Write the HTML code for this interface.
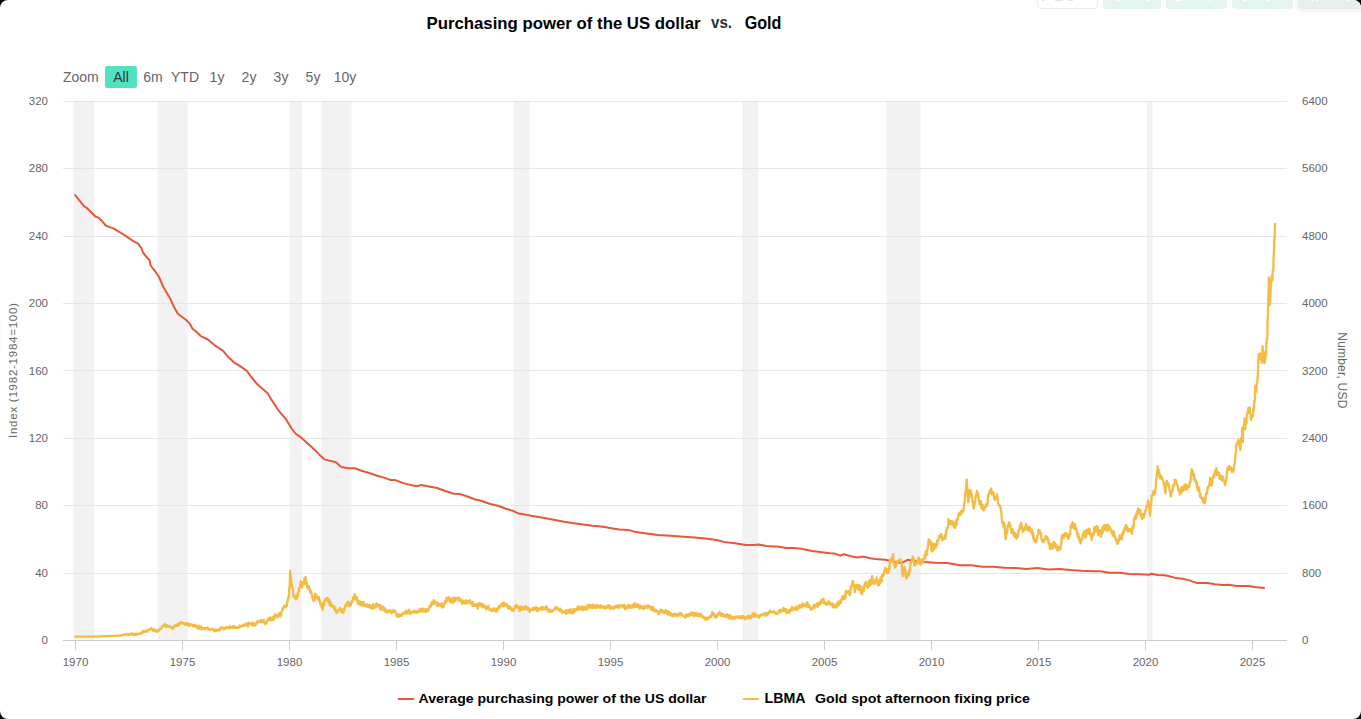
<!DOCTYPE html>
<html><head><meta charset="utf-8"><style>
html,body{margin:0;padding:0;background:#000;width:1361px;height:719px;overflow:hidden}
svg{display:block;font-family:"Liberation Sans",sans-serif}
</style></head><body>
<svg width="1361" height="719" viewBox="0 0 1361 719">
<defs><clipPath id="rr"><rect x="0" y="0" width="1361" height="719" rx="8" ry="8"/></clipPath></defs>
<rect x="0" y="0" width="1361" height="719" rx="8" ry="8" fill="#fff"/>
<g clip-path="url(#rr)">
<rect x="1037.5" y="-6" width="60" height="14.5" rx="3.5" fill="#fff" stroke="#ececec" stroke-width="1"/>
<rect x="1042" y="0" width="2" height="1" fill="#e0e0e0"/><rect x="1055" y="0" width="8" height="1" fill="#e4e4e4"/><rect x="1068" y="0" width="5" height="1" fill="#e4e4e4"/>
<rect x="1103" y="-6" width="58" height="15" rx="4" fill="#e4f4f0"/>
<rect x="1166" y="-6" width="61" height="15" rx="4" fill="#e4f4f0"/>
<rect x="1232" y="-6" width="61" height="15" rx="4" fill="#e4f4f0"/>
<rect x="1295" y="-6" width="80" height="18" rx="6" fill="#f3f8f7"/>
<rect x="1298" y="-6" width="70" height="15" rx="4" fill="#e6efed"/>
<g fill="#fff"><rect x="1116" y="0" width="3" height="1.2"/><rect x="1130" y="0" width="1.5" height="1"/><rect x="1138" y="0" width="1.5" height="1"/><rect x="1147" y="0" width="3" height="1.2"/>
<rect x="1176" y="0" width="6" height="1.2"/><rect x="1190" y="0" width="1.5" height="1"/><rect x="1200" y="0" width="1.5" height="1"/><rect x="1209" y="0" width="2" height="1"/>
<rect x="1243" y="0" width="4" height="1.2"/><rect x="1256" y="0" width="1.5" height="1"/><rect x="1266" y="0" width="3" height="1"/>
<rect x="1311" y="0" width="3" height="1.2"/><rect x="1316" y="0" width="2" height="1.2"/><rect x="1346" y="0" width="3" height="1.2"/></g>
</g>
<g font-weight="bold" fill="#000">
<text x="426.5" y="29" font-size="17" textLength="274" lengthAdjust="spacingAndGlyphs">Purchasing power of the US dollar</text>
<text x="711" y="28" font-size="16" fill="#2a2f3a" textLength="21" lengthAdjust="spacingAndGlyphs">vs.</text>
<text x="744.7" y="29" font-size="17.6" textLength="36.8" lengthAdjust="spacingAndGlyphs">Gold</text>
</g>
<g font-size="14">
<text x="63" y="82" fill="#666">Zoom</text>
<rect x="105" y="66" width="32" height="22" rx="2.5" fill="#50e3c2"/><text x="121" y="82" text-anchor="middle" fill="#333">All</text><text x="153" y="82" text-anchor="middle" fill="#666">6m</text><text x="185" y="82" text-anchor="middle" fill="#666">YTD</text><text x="217" y="82" text-anchor="middle" fill="#666">1y</text><text x="249" y="82" text-anchor="middle" fill="#666">2y</text><text x="281" y="82" text-anchor="middle" fill="#666">3y</text><text x="313" y="82" text-anchor="middle" fill="#666">5y</text><text x="345" y="82" text-anchor="middle" fill="#666">10y</text>
</g>
<rect x="73.3" y="101.5" width="20.9" height="538.5" fill="#f2f2f2"/><rect x="157.7" y="101.5" width="30.0" height="538.5" fill="#f2f2f2"/><rect x="289.6" y="101.5" width="12.2" height="538.5" fill="#f2f2f2"/><rect x="321.3" y="101.5" width="30.3" height="538.5" fill="#f2f2f2"/><rect x="513.5" y="101.5" width="16.0" height="538.5" fill="#f2f2f2"/><rect x="742.2" y="101.5" width="15.8" height="538.5" fill="#f2f2f2"/><rect x="886.5" y="101.5" width="34.0" height="538.5" fill="#f2f2f2"/><rect x="1147.0" y="101.5" width="5.5" height="538.5" fill="#f2f2f2"/>
<path d="M63,573.5 L1287,573.5" stroke="#e6e6e6" stroke-width="1"/><path d="M63,505.5 L1287,505.5" stroke="#e6e6e6" stroke-width="1"/><path d="M63,438.5 L1287,438.5" stroke="#e6e6e6" stroke-width="1"/><path d="M63,370.5 L1287,370.5" stroke="#e6e6e6" stroke-width="1"/><path d="M63,303.5 L1287,303.5" stroke="#e6e6e6" stroke-width="1"/><path d="M63,236.5 L1287,236.5" stroke="#e6e6e6" stroke-width="1"/><path d="M63,168.5 L1287,168.5" stroke="#e6e6e6" stroke-width="1"/><path d="M63,101.5 L1287,101.5" stroke="#e6e6e6" stroke-width="1"/>
<path d="M63,640.5 L1287,640.5" stroke="#cccccc" stroke-width="1"/>
<path d="M75.5,640 L75.5,650" stroke="#cccccc" stroke-width="1"/><path d="M182.5,640 L182.5,650" stroke="#cccccc" stroke-width="1"/><path d="M289.5,640 L289.5,650" stroke="#cccccc" stroke-width="1"/><path d="M396.5,640 L396.5,650" stroke="#cccccc" stroke-width="1"/><path d="M503.5,640 L503.5,650" stroke="#cccccc" stroke-width="1"/><path d="M610.5,640 L610.5,650" stroke="#cccccc" stroke-width="1"/><path d="M717.5,640 L717.5,650" stroke="#cccccc" stroke-width="1"/><path d="M824.5,640 L824.5,650" stroke="#cccccc" stroke-width="1"/><path d="M931.5,640 L931.5,650" stroke="#cccccc" stroke-width="1"/><path d="M1038.5,640 L1038.5,650" stroke="#cccccc" stroke-width="1"/><path d="M1145.5,640 L1145.5,650" stroke="#cccccc" stroke-width="1"/><path d="M1252.5,640 L1252.5,650" stroke="#cccccc" stroke-width="1"/>
<g font-size="11.5" fill="#666"><text x="75.5" y="666" text-anchor="middle">1970</text><text x="182.5" y="666" text-anchor="middle">1975</text><text x="289.5" y="666" text-anchor="middle">1980</text><text x="396.5" y="666" text-anchor="middle">1985</text><text x="503.5" y="666" text-anchor="middle">1990</text><text x="610.5" y="666" text-anchor="middle">1995</text><text x="717.5" y="666" text-anchor="middle">2000</text><text x="824.5" y="666" text-anchor="middle">2005</text><text x="931.5" y="666" text-anchor="middle">2010</text><text x="1038.5" y="666" text-anchor="middle">2015</text><text x="1145.5" y="666" text-anchor="middle">2020</text><text x="1252.5" y="666" text-anchor="middle">2025</text><text x="48" y="644.0" text-anchor="end">0</text><text x="48" y="576.6" text-anchor="end">40</text><text x="48" y="509.2" text-anchor="end">80</text><text x="48" y="441.9" text-anchor="end">120</text><text x="48" y="374.5" text-anchor="end">160</text><text x="48" y="307.1" text-anchor="end">200</text><text x="48" y="239.8" text-anchor="end">240</text><text x="48" y="172.4" text-anchor="end">280</text><text x="48" y="105.0" text-anchor="end">320</text><text x="1302" y="644.0" text-anchor="start">0</text><text x="1302" y="576.6" text-anchor="start">800</text><text x="1302" y="509.2" text-anchor="start">1600</text><text x="1302" y="441.9" text-anchor="start">2400</text><text x="1302" y="374.5" text-anchor="start">3200</text><text x="1302" y="307.1" text-anchor="start">4000</text><text x="1302" y="239.8" text-anchor="start">4800</text><text x="1302" y="172.4" text-anchor="start">5600</text><text x="1302" y="105.0" text-anchor="start">6400</text></g>
<text transform="translate(17.3,370.5) rotate(-90)" text-anchor="middle" font-size="11.5" fill="#666" textLength="135" lengthAdjust="spacing">Index (1982-1984=100)</text>
<text transform="translate(1338,370.3) rotate(90)" text-anchor="middle" font-size="12" fill="#666" textLength="76" lengthAdjust="spacing">Number, USD</text>
<path d="M75.10,195.00 L79.70,200.90 L83.90,206.10 L87.00,208.20 L91.20,212.30 L95.30,216.50 L98.50,217.60 L101.60,220.70 L105.80,225.50 L111.00,227.60 L114.10,228.60 L117.20,230.70 L122.50,233.80 L127.70,237.40 L132.90,240.90 L138.10,243.60 L141.20,247.80 L143.30,253.00 L147.50,258.20 L149.60,260.30 L150.60,265.50 L154.80,270.80 L159.00,277.00 L163.10,286.40 L167.30,293.70 L170.40,298.90 L173.60,306.20 L177.70,313.50 L180.00,315.50 L185.60,319.50 L189.70,323.60 L192.50,328.70 L196.70,332.00 L200.90,336.20 L207.80,339.50 L214.80,345.30 L223.10,350.90 L228.70,357.60 L234.20,362.60 L239.80,365.90 L246.80,370.90 L250.90,376.50 L256.50,383.40 L262.10,388.50 L267.60,393.20 L273.20,402.40 L278.70,410.70 L285.70,418.80 L291.30,428.00 L295.40,433.50 L299.60,436.30 L305.20,441.30 L313.50,448.80 L319.10,454.40 L324.60,459.40 L335.80,462.20 L341.30,466.90 L348.30,468.30 L355.20,468.30 L360.80,470.50 L369.20,473.00 L377.30,475.70 L384.70,477.90 L390.20,479.90 L394.80,479.90 L403.10,483.10 L410.40,484.90 L416.80,486.20 L421.40,484.90 L428.80,486.40 L437.00,488.00 L445.30,491.00 L453.60,493.70 L460.00,494.10 L467.40,496.50 L474.70,499.20 L481.10,500.70 L489.40,503.80 L498.60,506.00 L505.90,508.80 L512.40,510.60 L518.80,513.60 L526.10,514.80 L535.30,516.50 L544.50,518.00 L553.70,519.80 L562.90,521.60 L572.10,523.10 L583.10,524.40 L592.30,525.70 L603.30,526.80 L610.00,527.90 L619.20,529.40 L628.40,529.90 L635.70,532.10 L646.70,533.60 L657.80,534.90 L670.60,535.80 L683.50,536.70 L694.50,537.50 L705.50,538.60 L716.50,540.00 L723.90,541.90 L734.90,543.20 L745.90,545.00 L753.30,545.00 L758.80,544.50 L766.10,545.90 L779.00,546.80 L786.30,548.10 L793.70,548.10 L801.00,548.70 L812.10,550.90 L820.00,551.90 L830.00,553.20 L835.00,553.60 L840.00,555.70 L843.80,554.20 L852.60,556.60 L857.60,557.60 L863.80,556.60 L870.10,558.20 L875.10,559.10 L885.10,559.80 L890.10,560.70 L901.40,563.20 L907.60,559.80 L912.70,560.70 L923.90,561.90 L935.20,562.80 L947.40,563.10 L952.90,564.00 L960.20,565.30 L971.20,565.30 L982.30,566.70 L993.30,566.70 L1004.30,567.70 L1015.30,568.00 L1026.30,568.90 L1037.40,568.00 L1048.40,569.50 L1059.40,568.90 L1070.40,570.00 L1081.40,570.80 L1092.50,571.30 L1100.30,571.30 L1109.10,572.80 L1119.40,572.80 L1129.70,574.00 L1140.00,574.20 L1148.80,574.70 L1151.70,573.80 L1157.60,575.00 L1164.90,575.30 L1169.40,576.20 L1175.20,577.90 L1182.60,578.70 L1188.50,580.10 L1192.90,581.60 L1197.30,583.10 L1207.60,583.10 L1214.90,584.20 L1222.30,585.00 L1228.10,584.80 L1237.00,586.00 L1248.70,586.00 L1254.60,587.00 L1264.10,587.90" fill="none" stroke="#e8563b" stroke-width="2" stroke-linejoin="round" stroke-linecap="round"/>
<path d="M75.50,636.70 L75.84,636.67 L76.19,636.65 L76.53,636.72 L76.88,636.73 L77.22,636.73 L77.57,636.73 L77.91,636.72 L78.26,636.53 L78.60,636.60 L78.95,636.64 L79.29,636.62 L79.64,636.69 L79.98,636.76 L80.33,636.74 L80.67,636.60 L81.02,636.64 L81.36,636.68 L81.71,636.59 L82.05,636.72 L82.40,636.64 L82.74,636.54 L83.09,636.72 L83.43,636.57 L83.78,636.55 L84.12,636.61 L84.47,636.64 L84.81,636.67 L85.16,636.67 L85.50,636.56 L85.85,636.61 L86.19,636.56 L86.54,636.58 L86.88,636.51 L87.23,636.63 L87.57,636.68 L87.92,636.43 L88.26,636.56 L88.61,636.65 L88.95,636.62 L89.30,636.64 L89.64,636.69 L89.99,636.69 L90.33,636.70 L90.68,636.66 L91.02,636.54 L91.37,636.48 L91.71,636.66 L92.06,636.67 L92.40,636.57 L92.75,636.62 L93.10,636.65 L93.45,636.52 L93.80,636.56 L94.15,636.59 L94.50,636.52 L94.85,636.50 L95.20,636.47 L95.55,636.44 L95.90,636.44 L96.25,636.53 L96.60,636.55 L96.95,636.50 L97.30,636.51 L97.65,636.47 L98.00,636.45 L98.35,636.48 L98.70,636.49 L99.05,636.41 L99.40,636.47 L99.75,636.41 L100.10,636.24 L100.45,636.38 L100.80,636.37 L101.15,636.37 L101.50,636.28 L101.85,636.38 L102.20,636.31 L102.55,636.29 L102.90,636.19 L103.25,636.15 L103.60,636.28 L103.95,636.32 L104.30,636.15 L104.65,636.20 L105.00,636.00 L105.35,636.09 L105.70,636.08 L106.05,636.25 L106.40,636.16 L106.75,636.16 L107.10,636.23 L107.44,636.12 L107.79,636.10 L108.13,636.15 L108.48,636.19 L108.82,636.16 L109.16,635.97 L109.51,636.00 L109.85,635.93 L110.20,636.08 L110.54,635.99 L110.89,635.95 L111.23,636.13 L111.57,636.09 L111.92,635.97 L112.26,636.02 L112.61,635.87 L112.95,635.93 L113.29,635.86 L113.64,636.03 L113.98,635.93 L114.33,635.97 L114.67,635.90 L115.01,635.88 L115.36,635.80 L115.70,635.83 L116.05,635.73 L116.39,635.82 L116.74,635.85 L117.08,635.82 L117.42,635.87 L117.77,635.80 L118.11,635.61 L118.46,635.71 L118.80,635.60 L119.15,635.55 L119.49,635.52 L119.84,635.52 L120.19,635.59 L120.54,635.30 L120.88,635.50 L121.23,635.20 L121.58,635.37 L121.92,635.34 L122.27,635.03 L122.62,634.99 L122.96,635.01 L123.31,634.88 L123.66,634.87 L124.01,634.86 L124.35,634.70 L124.70,634.24 L125.05,634.56 L125.39,634.27 L125.74,634.35 L126.09,634.63 L126.44,634.55 L126.78,634.68 L127.13,634.03 L127.48,634.83 L127.82,634.31 L128.17,634.07 L128.52,635.09 L128.86,634.49 L129.21,634.36 L129.56,634.61 L129.91,634.15 L130.25,634.37 L130.60,633.98 L130.95,633.83 L131.29,634.08 L131.64,633.69 L131.99,634.63 L132.34,633.43 L132.68,634.51 L133.03,634.65 L133.38,634.63 L133.72,634.56 L134.07,633.97 L134.42,635.05 L134.76,633.94 L135.11,634.30 L135.46,633.82 L135.81,634.85 L136.15,633.77 L136.50,634.87 L136.84,634.92 L137.18,634.49 L137.52,633.74 L137.85,634.17 L138.19,633.78 L138.53,633.99 L138.87,633.96 L139.21,634.08 L139.55,633.40 L139.88,633.59 L140.22,633.60 L140.56,633.56 L140.90,632.93 L141.22,633.75 L141.54,633.14 L141.87,632.70 L142.19,632.69 L142.51,632.71 L142.83,631.00 L143.16,632.55 L143.48,631.12 L143.80,631.73 L144.15,631.53 L144.49,631.85 L144.84,631.62 L145.19,631.87 L145.54,630.85 L145.88,631.45 L146.23,631.35 L146.58,631.16 L146.92,631.71 L147.27,630.34 L147.62,631.52 L147.96,630.38 L148.31,629.89 L148.66,629.56 L149.01,629.90 L149.35,629.25 L149.70,629.44 L150.04,629.27 L150.38,629.62 L150.72,628.83 L151.05,628.50 L151.39,628.26 L151.73,629.59 L152.07,629.49 L152.41,628.88 L152.75,630.26 L153.08,629.81 L153.42,629.37 L153.76,630.92 L154.10,630.19 L154.44,629.59 L154.77,629.77 L155.11,629.68 L155.45,630.65 L155.78,631.13 L156.12,631.72 L156.45,630.86 L156.79,630.59 L157.13,631.24 L157.46,630.76 L157.80,631.44 L158.12,631.02 L158.44,630.55 L158.77,630.91 L159.09,630.13 L159.41,628.82 L159.73,629.74 L160.06,629.33 L160.38,628.32 L160.70,628.58 L161.04,628.79 L161.37,627.63 L161.71,627.66 L162.05,627.62 L162.38,626.15 L162.72,626.05 L163.05,625.83 L163.39,625.52 L163.73,624.97 L164.06,625.12 L164.40,625.20 L164.74,623.82 L165.08,625.31 L165.42,626.76 L165.75,626.14 L166.09,626.07 L166.43,625.46 L166.77,624.95 L167.11,625.20 L167.45,627.16 L167.78,625.76 L168.12,625.97 L168.46,625.91 L168.80,626.29 L169.14,626.88 L169.48,626.27 L169.82,626.14 L170.15,626.34 L170.49,626.66 L170.83,627.31 L171.17,627.22 L171.51,627.64 L171.85,627.44 L172.18,628.31 L172.52,628.95 L172.86,628.20 L173.20,627.73 L173.54,628.21 L173.88,626.55 L174.22,625.79 L174.55,626.49 L174.89,626.33 L175.23,625.61 L175.57,625.18 L175.91,626.00 L176.25,625.54 L176.58,625.36 L176.92,625.94 L177.26,624.84 L177.60,624.15 L177.93,623.99 L178.27,624.46 L178.60,625.45 L178.93,623.73 L179.27,622.89 L179.60,623.88 L179.93,623.84 L180.27,623.52 L180.60,623.59 L180.94,622.09 L181.28,622.11 L181.62,623.13 L181.95,623.14 L182.29,623.23 L182.63,623.18 L182.97,623.02 L183.31,622.92 L183.65,623.87 L183.98,623.72 L184.32,623.45 L184.66,623.82 L185.00,624.51 L185.34,624.02 L185.68,624.44 L186.02,625.00 L186.36,623.13 L186.71,624.37 L187.05,624.79 L187.39,624.09 L187.73,624.21 L188.07,623.49 L188.41,624.38 L188.75,624.87 L189.09,626.11 L189.44,624.14 L189.78,625.07 L190.12,623.78 L190.46,624.81 L190.80,624.30 L191.15,624.79 L191.49,624.60 L191.84,625.42 L192.19,624.98 L192.54,625.04 L192.88,626.09 L193.23,625.80 L193.58,626.20 L193.92,625.88 L194.27,626.09 L194.62,624.61 L194.96,626.14 L195.31,626.58 L195.66,625.82 L196.01,625.53 L196.35,626.47 L196.70,626.72 L197.04,626.57 L197.37,628.03 L197.71,628.36 L198.05,626.97 L198.38,627.67 L198.72,625.75 L199.05,627.62 L199.39,628.86 L199.73,627.62 L200.06,627.92 L200.40,627.35 L200.74,626.45 L201.07,627.92 L201.41,629.49 L201.75,628.14 L202.08,627.73 L202.42,628.46 L202.75,628.19 L203.09,628.67 L203.43,628.23 L203.76,628.39 L204.10,629.09 L204.45,627.89 L204.79,628.80 L205.14,629.20 L205.49,628.91 L205.84,628.41 L206.18,628.77 L206.53,628.16 L206.88,628.48 L207.22,628.40 L207.57,627.47 L207.92,628.93 L208.26,628.64 L208.61,629.66 L208.96,629.16 L209.31,629.09 L209.65,628.88 L210.00,629.21 L210.35,629.87 L210.70,629.35 L211.04,629.83 L211.39,629.65 L211.74,629.39 L212.09,628.85 L212.43,629.00 L212.78,629.41 L213.13,630.11 L213.48,629.55 L213.82,630.69 L214.17,630.13 L214.52,630.33 L214.87,631.26 L215.21,629.45 L215.56,630.65 L215.91,630.95 L216.26,630.08 L216.60,631.14 L216.95,630.01 L217.30,629.64 L217.64,630.14 L217.98,629.90 L218.32,629.73 L218.65,629.43 L218.99,629.98 L219.33,630.50 L219.67,629.10 L220.01,629.72 L220.35,628.49 L220.68,627.77 L221.02,628.43 L221.36,628.15 L221.70,627.08 L222.04,628.33 L222.37,628.50 L222.71,628.31 L223.05,628.28 L223.38,628.08 L223.72,629.35 L224.05,628.29 L224.39,627.63 L224.73,628.56 L225.06,628.34 L225.40,628.71 L225.74,627.52 L226.07,627.96 L226.41,627.48 L226.75,628.04 L227.08,627.02 L227.42,627.81 L227.75,627.89 L228.09,627.17 L228.43,628.22 L228.76,627.54 L229.10,628.41 L229.45,627.73 L229.80,627.45 L230.14,626.01 L230.49,627.66 L230.84,626.99 L231.19,627.82 L231.53,627.91 L231.88,627.78 L232.23,627.17 L232.58,627.44 L232.92,626.19 L233.27,627.84 L233.62,627.78 L233.97,627.80 L234.31,626.88 L234.66,627.71 L235.01,626.12 L235.36,627.83 L235.70,627.49 L236.05,627.93 L236.40,627.79 L236.75,627.65 L237.10,627.67 L237.44,627.44 L237.79,628.01 L238.14,627.02 L238.49,627.83 L238.83,626.91 L239.18,627.29 L239.53,625.60 L239.88,627.17 L240.22,626.70 L240.57,626.54 L240.92,626.04 L241.27,625.92 L241.61,626.37 L241.96,626.10 L242.31,625.72 L242.66,625.90 L243.00,625.62 L243.35,624.53 L243.70,625.53 L244.05,625.33 L244.39,625.84 L244.74,625.83 L245.09,625.29 L245.44,624.94 L245.78,623.92 L246.13,624.83 L246.48,624.55 L246.82,624.50 L247.17,623.27 L247.52,623.58 L247.86,626.53 L248.21,624.22 L248.56,623.96 L248.91,622.70 L249.25,624.48 L249.60,623.71 L249.93,623.88 L250.26,623.86 L250.59,623.66 L250.93,624.26 L251.26,623.57 L251.59,623.87 L251.92,625.37 L252.25,622.56 L252.58,625.04 L252.92,624.74 L253.25,623.55 L253.58,623.59 L253.91,623.11 L254.24,625.59 L254.57,623.62 L254.91,623.63 L255.24,624.32 L255.57,624.94 L255.90,624.07 L256.24,623.48 L256.58,623.07 L256.92,621.40 L257.25,621.93 L257.59,622.34 L257.93,622.35 L258.27,621.41 L258.61,621.15 L258.95,621.66 L259.28,620.99 L259.62,621.20 L259.96,621.60 L260.30,621.98 L260.64,620.54 L260.97,619.98 L261.31,622.24 L261.65,621.27 L261.98,621.66 L262.32,620.27 L262.65,621.26 L262.99,621.22 L263.33,620.51 L263.66,619.85 L264.00,620.30 L264.35,623.03 L264.70,622.60 L265.05,623.13 L265.40,624.28 L265.74,623.64 L266.07,622.96 L266.41,623.55 L266.75,621.65 L267.08,620.80 L267.42,621.22 L267.75,621.10 L268.09,618.90 L268.43,620.10 L268.76,618.50 L269.10,617.89 L269.42,619.24 L269.74,619.15 L270.07,619.94 L270.39,617.27 L270.71,618.23 L271.03,618.47 L271.36,618.09 L271.68,620.31 L272.00,619.43 L272.34,619.21 L272.67,619.61 L273.01,616.79 L273.35,617.73 L273.68,617.86 L274.02,619.91 L274.35,616.60 L274.69,614.90 L275.03,616.52 L275.36,614.31 L275.70,615.90 L276.05,614.87 L276.39,616.50 L276.74,616.76 L277.09,615.96 L277.43,617.45 L277.78,616.31 L278.13,615.86 L278.47,614.30 L278.82,613.79 L279.17,615.89 L279.51,616.13 L279.86,613.26 L280.21,616.11 L280.55,614.59 L280.90,615.95 L281.22,614.66 L281.54,612.25 L281.87,610.78 L282.19,610.30 L282.51,610.30 L282.83,608.25 L283.16,608.85 L283.48,607.18 L283.80,607.71 L284.12,606.47 L284.44,605.90 L284.77,605.23 L285.09,607.10 L285.41,606.99 L285.73,607.41 L286.06,605.59 L286.38,605.79 L286.70,605.84 L287.00,604.88 L287.30,601.33 L287.60,602.17 L287.90,599.68 L288.20,597.50 L288.50,598.46 L288.80,597.25 L289.10,592.18 L289.40,586.63 L289.70,587.47 L289.90,579.46 L290.10,571.01 L290.43,573.46 L290.77,576.84 L291.10,580.69 L291.40,581.87 L291.70,583.82 L292.00,585.45 L292.30,587.45 L292.60,588.15 L292.87,588.88 L293.13,592.24 L293.40,596.76 L293.73,596.58 L294.05,596.33 L294.38,596.96 L294.71,596.72 L295.04,597.45 L295.36,597.84 L295.69,599.35 L296.02,595.32 L296.35,598.59 L296.67,599.06 L297.00,597.35 L297.30,596.39 L297.60,594.21 L297.90,596.10 L298.20,593.13 L298.50,590.85 L298.81,588.15 L299.13,591.29 L299.44,588.63 L299.76,587.14 L300.07,586.93 L300.39,582.00 L300.70,581.18 L301.00,586.02 L301.30,585.98 L301.60,584.96 L301.90,584.91 L302.20,587.53 L302.51,582.48 L302.82,582.52 L303.14,582.63 L303.45,581.84 L303.76,584.39 L304.07,582.74 L304.39,578.14 L304.70,580.14 L305.02,580.68 L305.35,578.97 L305.68,576.91 L306.00,584.16 L306.32,581.08 L306.65,582.43 L306.98,584.39 L307.30,587.82 L307.64,585.69 L307.97,588.74 L308.31,586.29 L308.65,586.53 L308.98,585.86 L309.32,589.22 L309.65,590.37 L309.99,589.65 L310.33,592.91 L310.66,590.54 L311.00,592.13 L311.31,592.40 L311.63,593.84 L311.94,594.65 L312.26,597.43 L312.57,596.17 L312.89,600.51 L313.20,599.51 L313.51,600.64 L313.83,596.74 L314.14,597.74 L314.46,600.63 L314.77,597.73 L315.09,593.58 L315.40,595.31 L315.74,594.98 L316.07,594.65 L316.41,595.47 L316.75,597.20 L317.08,596.94 L317.42,597.67 L317.75,598.86 L318.09,599.46 L318.43,598.58 L318.76,596.83 L319.10,597.96 L319.43,601.37 L319.75,600.34 L320.08,604.45 L320.41,602.76 L320.74,604.59 L321.06,603.75 L321.39,605.52 L321.72,607.68 L322.05,606.50 L322.37,605.83 L322.70,609.92 L323.03,605.10 L323.37,602.95 L323.70,602.30 L324.03,605.73 L324.37,602.10 L324.70,601.99 L325.03,599.75 L325.37,600.24 L325.70,598.79 L326.04,599.18 L326.38,599.12 L326.72,598.14 L327.05,600.31 L327.39,600.49 L327.73,598.20 L328.07,601.50 L328.41,601.17 L328.75,600.10 L329.08,602.81 L329.42,599.98 L329.76,605.52 L330.10,602.51 L330.45,603.20 L330.79,602.31 L331.14,606.15 L331.49,605.55 L331.84,604.32 L332.18,606.65 L332.53,606.43 L332.88,605.80 L333.23,606.45 L333.57,607.74 L333.92,607.34 L334.27,606.32 L334.62,609.27 L334.96,610.37 L335.31,608.07 L335.66,611.02 L336.01,610.71 L336.35,612.57 L336.70,613.02 L337.02,612.40 L337.34,610.89 L337.67,611.64 L337.99,610.72 L338.31,609.90 L338.63,610.15 L338.96,609.32 L339.28,609.57 L339.60,610.06 L339.94,607.94 L340.27,609.48 L340.61,609.24 L340.95,610.58 L341.28,612.06 L341.62,612.19 L341.95,609.28 L342.29,612.28 L342.63,612.42 L342.96,611.54 L343.30,612.75 L343.63,612.40 L343.97,609.04 L344.30,609.39 L344.63,608.41 L344.97,606.13 L345.30,605.74 L345.63,604.98 L345.97,606.59 L346.30,605.03 L346.63,603.83 L346.95,602.64 L347.28,602.74 L347.61,604.90 L347.94,601.64 L348.26,603.51 L348.59,602.26 L348.92,603.62 L349.25,606.34 L349.57,603.28 L349.90,604.44 L350.25,603.33 L350.59,604.83 L350.94,604.98 L351.29,602.14 L351.63,602.42 L351.98,600.83 L352.33,601.97 L352.67,600.66 L353.02,597.43 L353.37,599.02 L353.71,596.99 L354.06,596.51 L354.41,599.05 L354.75,594.24 L355.10,597.60 L355.42,597.20 L355.74,597.26 L356.07,599.16 L356.39,599.80 L356.71,596.96 L357.03,598.83 L357.36,601.15 L357.68,602.37 L358.00,600.56 L358.35,604.34 L358.69,601.74 L359.04,603.27 L359.39,602.34 L359.74,601.25 L360.08,604.07 L360.43,602.31 L360.78,605.29 L361.13,603.33 L361.47,602.15 L361.82,603.32 L362.17,605.28 L362.52,602.19 L362.86,605.34 L363.21,603.35 L363.56,602.26 L363.91,602.99 L364.25,603.73 L364.60,604.45 L364.94,605.85 L365.27,605.15 L365.61,604.62 L365.95,604.39 L366.28,604.66 L366.62,606.28 L366.95,604.70 L367.29,604.55 L367.63,605.19 L367.96,607.22 L368.30,605.73 L368.64,606.05 L368.97,605.31 L369.31,606.48 L369.65,604.78 L369.98,607.71 L370.32,608.10 L370.65,607.67 L370.99,605.96 L371.33,606.75 L371.66,606.16 L372.00,605.64 L372.35,608.95 L372.70,608.36 L373.04,604.06 L373.39,605.10 L373.74,606.13 L374.09,606.31 L374.43,607.26 L374.78,607.87 L375.13,605.91 L375.48,606.88 L375.82,605.37 L376.17,603.62 L376.52,606.62 L376.87,603.59 L377.21,605.21 L377.56,604.42 L377.91,606.37 L378.26,606.28 L378.60,605.49 L378.95,606.05 L379.30,605.19 L379.64,604.76 L379.98,607.14 L380.32,609.41 L380.65,605.57 L380.99,608.57 L381.33,609.78 L381.67,607.14 L382.01,608.38 L382.35,607.10 L382.68,607.66 L383.02,608.55 L383.36,606.76 L383.70,610.43 L384.04,609.84 L384.38,609.71 L384.72,608.43 L385.05,610.65 L385.39,611.45 L385.73,612.16 L386.07,611.73 L386.41,610.17 L386.75,610.69 L387.08,611.36 L387.42,612.52 L387.76,611.08 L388.10,611.94 L388.45,611.26 L388.79,610.52 L389.14,611.35 L389.49,610.56 L389.84,611.45 L390.18,610.48 L390.53,612.65 L390.88,611.41 L391.22,611.31 L391.57,613.33 L391.92,611.00 L392.26,611.94 L392.61,610.66 L392.96,612.07 L393.31,610.00 L393.65,610.04 L394.00,611.72 L394.34,610.63 L394.68,611.63 L395.02,611.57 L395.35,611.41 L395.69,613.24 L396.03,613.22 L396.37,613.67 L396.71,616.27 L397.05,615.14 L397.38,615.59 L397.72,615.37 L398.06,615.62 L398.40,616.86 L398.75,614.26 L399.09,616.76 L399.44,615.96 L399.79,616.03 L400.14,615.14 L400.48,614.74 L400.83,614.54 L401.18,614.48 L401.52,614.86 L401.87,615.99 L402.22,614.28 L402.56,613.34 L402.91,614.29 L403.26,613.03 L403.61,612.92 L403.95,612.39 L404.30,613.57 L404.65,613.01 L405.00,613.37 L405.34,613.00 L405.69,611.12 L406.04,613.48 L406.39,611.89 L406.73,610.77 L407.08,613.16 L407.43,611.69 L407.78,613.48 L408.12,611.28 L408.47,613.07 L408.82,612.48 L409.17,609.72 L409.51,610.32 L409.86,612.83 L410.21,612.50 L410.56,613.98 L410.90,611.93 L411.25,612.34 L411.60,612.49 L411.95,612.24 L412.29,612.33 L412.64,612.39 L412.99,611.08 L413.34,612.69 L413.68,611.92 L414.03,611.56 L414.38,610.88 L414.72,610.79 L415.07,610.86 L415.42,611.06 L415.76,612.52 L416.11,612.42 L416.46,611.50 L416.81,612.82 L417.15,611.32 L417.50,611.89 L417.84,612.24 L418.18,611.75 L418.52,611.87 L418.85,610.04 L419.19,609.92 L419.53,612.09 L419.87,610.26 L420.21,608.77 L420.55,610.07 L420.88,610.57 L421.22,609.82 L421.56,609.19 L421.90,608.55 L422.25,608.49 L422.59,611.78 L422.94,610.69 L423.29,609.57 L423.64,608.87 L423.98,610.54 L424.33,610.38 L424.68,610.59 L425.02,610.36 L425.37,611.79 L425.72,612.01 L426.06,609.08 L426.41,609.65 L426.76,609.20 L427.11,609.89 L427.45,609.75 L427.80,611.30 L428.15,610.94 L428.49,609.10 L428.84,609.06 L429.19,607.76 L429.54,605.81 L429.88,606.55 L430.23,606.77 L430.58,605.02 L430.92,606.09 L431.27,605.21 L431.62,602.09 L431.96,603.48 L432.31,604.16 L432.66,604.36 L433.01,602.20 L433.35,601.75 L433.70,600.16 L434.04,602.52 L434.38,603.44 L434.72,602.76 L435.05,602.11 L435.39,602.68 L435.73,601.64 L436.07,602.59 L436.41,602.09 L436.75,604.67 L437.08,605.76 L437.42,602.61 L437.76,605.44 L438.10,605.79 L438.44,603.36 L438.79,604.77 L439.13,605.30 L439.47,605.20 L439.81,604.25 L440.16,605.86 L440.50,605.48 L440.84,605.54 L441.19,604.95 L441.53,603.30 L441.87,605.84 L442.21,607.43 L442.56,605.93 L442.90,606.71 L443.24,604.01 L443.57,607.01 L443.91,603.30 L444.25,603.76 L444.58,603.89 L444.92,602.20 L445.25,600.71 L445.59,600.83 L445.93,600.66 L446.26,602.10 L446.60,597.63 L446.95,597.85 L447.29,599.50 L447.64,598.63 L447.99,600.15 L448.34,598.74 L448.68,597.23 L449.03,599.21 L449.38,598.29 L449.73,598.37 L450.07,600.81 L450.42,602.42 L450.77,599.87 L451.12,600.54 L451.46,601.99 L451.81,598.51 L452.16,600.40 L452.51,600.30 L452.85,599.74 L453.20,603.03 L453.55,599.55 L453.89,597.65 L454.24,598.73 L454.59,600.12 L454.94,597.96 L455.28,601.15 L455.63,598.23 L455.98,599.01 L456.32,598.81 L456.67,598.42 L457.02,598.20 L457.36,597.80 L457.71,598.31 L458.06,600.42 L458.41,599.23 L458.75,599.55 L459.10,598.82 L459.44,597.57 L459.78,601.11 L460.12,600.55 L460.45,599.76 L460.79,600.73 L461.13,599.61 L461.47,601.94 L461.81,602.23 L462.15,603.76 L462.48,600.85 L462.82,601.34 L463.16,600.59 L463.50,601.43 L463.85,602.85 L464.19,601.37 L464.54,601.58 L464.89,601.36 L465.24,603.56 L465.58,602.21 L465.93,600.28 L466.28,601.02 L466.62,603.32 L466.97,602.52 L467.32,602.29 L467.66,602.03 L468.01,601.26 L468.36,601.52 L468.71,602.55 L469.05,602.19 L469.40,600.19 L469.75,600.46 L470.09,603.26 L470.44,603.54 L470.79,602.00 L471.14,603.55 L471.48,601.78 L471.83,602.15 L472.18,602.55 L472.53,605.79 L472.87,602.13 L473.22,604.40 L473.57,605.29 L473.92,605.74 L474.26,605.38 L474.61,604.55 L474.96,604.27 L475.31,604.78 L475.65,606.03 L476.00,605.63 L476.34,604.05 L476.67,605.94 L477.01,604.47 L477.35,606.07 L477.68,607.43 L478.02,608.55 L478.35,605.20 L478.69,604.17 L479.03,602.80 L479.36,605.30 L479.70,604.55 L480.05,604.74 L480.39,603.39 L480.74,604.35 L481.09,606.35 L481.44,606.02 L481.78,605.50 L482.13,605.54 L482.48,603.97 L482.82,607.22 L483.17,606.25 L483.52,606.17 L483.86,607.16 L484.21,607.08 L484.56,607.31 L484.91,605.36 L485.25,607.78 L485.60,606.75 L485.94,606.94 L486.28,609.23 L486.62,608.66 L486.96,609.07 L487.31,606.64 L487.65,608.89 L487.99,606.87 L488.33,605.94 L488.67,608.71 L489.01,608.71 L489.35,608.90 L489.69,610.33 L490.04,609.01 L490.38,609.81 L490.72,609.32 L491.06,609.15 L491.40,609.67 L491.75,610.88 L492.09,610.24 L492.44,611.22 L492.79,610.42 L493.13,609.98 L493.48,609.64 L493.83,608.07 L494.17,608.91 L494.52,610.01 L494.87,610.28 L495.21,609.36 L495.56,611.37 L495.91,608.60 L496.25,611.97 L496.60,609.21 L496.94,610.58 L497.28,608.97 L497.62,609.95 L497.96,609.63 L498.30,608.26 L498.64,606.69 L498.98,605.82 L499.32,606.24 L499.66,606.89 L500.00,607.42 L500.34,606.05 L500.68,605.30 L501.02,605.72 L501.36,604.82 L501.70,604.51 L502.04,604.28 L502.38,603.06 L502.72,603.84 L503.05,606.37 L503.39,604.40 L503.73,605.36 L504.07,602.44 L504.41,604.09 L504.75,605.54 L505.08,603.85 L505.42,604.81 L505.76,605.37 L506.10,604.73 L506.44,603.82 L506.77,606.18 L507.11,606.30 L507.45,605.25 L507.78,607.83 L508.12,606.73 L508.45,606.34 L508.79,608.59 L509.13,607.38 L509.46,606.33 L509.80,608.71 L510.14,608.78 L510.47,608.33 L510.81,607.32 L511.15,608.58 L511.48,607.97 L511.82,610.69 L512.15,610.02 L512.49,609.39 L512.83,609.44 L513.16,610.91 L513.50,610.96 L513.82,609.33 L514.14,609.07 L514.47,608.46 L514.79,606.29 L515.11,605.87 L515.43,606.35 L515.76,607.58 L516.08,606.05 L516.40,605.15 L516.74,605.21 L517.07,605.71 L517.41,607.37 L517.75,607.22 L518.08,608.21 L518.42,606.48 L518.75,607.21 L519.09,607.69 L519.43,608.36 L519.76,611.15 L520.10,610.96 L520.44,607.45 L520.78,609.80 L521.12,606.51 L521.46,608.41 L521.80,608.15 L522.14,607.21 L522.48,609.72 L522.82,607.32 L523.16,609.02 L523.50,606.98 L523.84,608.12 L524.18,609.42 L524.52,609.39 L524.86,609.36 L525.20,607.94 L525.54,607.07 L525.88,606.13 L526.22,607.94 L526.55,608.50 L526.89,607.51 L527.23,607.55 L527.57,609.92 L527.91,607.45 L528.25,608.44 L528.58,607.95 L528.92,608.29 L529.26,610.01 L529.60,611.84 L529.95,609.57 L530.29,610.60 L530.64,609.61 L530.99,609.73 L531.34,609.63 L531.68,609.69 L532.03,609.35 L532.38,609.07 L532.72,608.21 L533.07,610.02 L533.42,610.18 L533.76,607.84 L534.11,608.50 L534.46,607.55 L534.81,607.53 L535.15,607.52 L535.50,609.09 L535.84,606.92 L536.18,608.72 L536.52,610.61 L536.85,607.93 L537.19,608.22 L537.53,608.31 L537.87,609.26 L538.21,611.12 L538.55,608.43 L538.88,609.14 L539.22,608.84 L539.56,609.20 L539.90,609.06 L540.24,608.20 L540.58,608.95 L540.92,609.37 L541.25,607.35 L541.59,608.51 L541.93,608.58 L542.27,609.58 L542.61,607.01 L542.95,609.41 L543.28,608.47 L543.62,608.55 L543.96,607.90 L544.30,608.60 L544.64,609.33 L544.97,608.10 L545.31,609.10 L545.65,607.24 L545.98,608.00 L546.32,606.21 L546.65,608.55 L546.99,607.42 L547.33,609.74 L547.66,610.71 L548.00,609.13 L548.34,610.05 L548.67,611.57 L549.01,609.36 L549.35,609.39 L549.68,610.93 L550.02,611.45 L550.35,611.89 L550.69,610.45 L551.03,610.96 L551.36,610.84 L551.70,611.52 L552.05,610.07 L552.39,611.23 L552.74,611.30 L553.09,610.39 L553.44,609.91 L553.78,610.00 L554.13,609.36 L554.48,609.10 L554.82,608.87 L555.17,607.91 L555.52,608.70 L555.86,607.02 L556.21,609.52 L556.56,608.23 L556.91,608.75 L557.25,608.46 L557.60,607.48 L557.94,608.84 L558.28,608.72 L558.62,609.60 L558.95,610.44 L559.29,609.77 L559.63,610.07 L559.97,611.09 L560.31,608.58 L560.65,611.01 L560.98,610.29 L561.32,611.30 L561.66,610.67 L562.00,610.55 L562.34,612.97 L562.68,612.53 L563.02,612.47 L563.36,612.45 L563.71,612.19 L564.05,612.26 L564.39,611.17 L564.73,612.30 L565.07,612.55 L565.41,612.21 L565.75,610.33 L566.09,613.81 L566.44,612.62 L566.78,613.32 L567.12,611.43 L567.46,610.24 L567.80,612.63 L568.15,611.33 L568.49,612.56 L568.84,610.54 L569.19,609.69 L569.53,612.64 L569.88,611.74 L570.23,610.28 L570.57,609.15 L570.92,611.48 L571.27,613.42 L571.61,612.43 L571.96,613.57 L572.31,612.58 L572.65,611.61 L573.00,613.17 L573.34,609.04 L573.68,610.60 L574.02,611.97 L574.36,609.67 L574.70,609.32 L575.04,609.09 L575.38,609.92 L575.72,610.69 L576.06,609.52 L576.40,609.34 L576.74,609.71 L577.08,609.54 L577.42,607.58 L577.76,607.89 L578.10,606.35 L578.44,609.84 L578.78,606.68 L579.12,608.53 L579.45,608.45 L579.79,608.95 L580.13,609.14 L580.47,608.76 L580.81,607.41 L581.15,608.30 L581.48,606.11 L581.82,608.30 L582.16,609.97 L582.50,610.36 L582.84,609.49 L583.17,609.02 L583.51,608.75 L583.85,606.81 L584.18,609.50 L584.52,608.52 L584.85,608.52 L585.19,606.91 L585.53,608.15 L585.86,607.29 L586.20,606.77 L586.54,609.75 L586.87,607.82 L587.21,606.95 L587.55,605.09 L587.88,608.26 L588.22,605.79 L588.55,605.63 L588.89,605.86 L589.23,605.13 L589.56,604.69 L589.90,607.08 L590.24,608.00 L590.58,605.67 L590.92,605.07 L591.25,606.05 L591.59,605.49 L591.93,605.58 L592.27,605.32 L592.61,608.11 L592.95,606.41 L593.28,604.59 L593.62,606.41 L593.96,607.54 L594.30,605.95 L594.64,607.29 L594.98,607.53 L595.32,605.94 L595.65,607.10 L595.99,608.23 L596.33,605.12 L596.67,605.99 L597.01,605.40 L597.35,605.16 L597.68,605.89 L598.02,606.65 L598.36,606.27 L598.70,607.70 L599.04,607.00 L599.39,606.03 L599.73,607.48 L600.07,606.59 L600.42,605.13 L600.76,607.87 L601.10,605.74 L601.45,607.31 L601.79,607.22 L602.13,606.11 L602.48,607.44 L602.82,606.05 L603.16,607.59 L603.51,606.76 L603.85,607.37 L604.19,608.41 L604.54,607.69 L604.88,606.46 L605.22,606.95 L605.57,606.71 L605.91,608.35 L606.25,608.02 L606.60,607.10 L606.94,607.66 L607.28,607.51 L607.63,606.50 L607.97,605.17 L608.31,606.92 L608.66,605.65 L609.00,605.38 L609.35,607.75 L609.70,608.66 L610.04,608.09 L610.39,606.45 L610.74,608.61 L611.09,606.73 L611.43,608.69 L611.78,608.25 L612.13,608.04 L612.48,607.57 L612.82,608.63 L613.17,608.49 L613.52,608.83 L613.87,608.41 L614.21,606.72 L614.56,607.08 L614.91,607.53 L615.26,606.09 L615.60,606.76 L615.95,607.50 L616.30,606.42 L616.64,606.51 L616.99,605.51 L617.33,605.49 L617.67,605.93 L618.02,607.12 L618.36,606.25 L618.70,605.87 L619.05,608.02 L619.39,607.71 L619.73,605.07 L620.08,606.37 L620.42,605.95 L620.76,606.19 L621.11,605.64 L621.45,605.82 L621.79,605.71 L622.14,605.96 L622.48,605.62 L622.82,605.22 L623.17,607.26 L623.51,606.27 L623.85,606.66 L624.20,607.41 L624.54,604.88 L624.88,607.66 L625.23,609.12 L625.57,606.36 L625.91,607.97 L626.26,608.51 L626.60,608.56 L626.94,606.99 L627.27,606.90 L627.61,606.79 L627.95,606.74 L628.28,604.64 L628.62,607.29 L628.95,607.64 L629.29,607.88 L629.63,607.45 L629.96,605.54 L630.30,605.96 L630.64,605.92 L630.97,605.64 L631.31,606.89 L631.65,607.93 L631.98,605.52 L632.32,606.46 L632.65,605.97 L632.99,604.57 L633.33,605.73 L633.66,607.46 L634.00,604.70 L634.33,605.32 L634.67,603.16 L635.00,606.56 L635.33,604.32 L635.67,605.60 L636.00,606.54 L636.33,606.90 L636.67,605.69 L637.00,605.11 L637.33,604.26 L637.67,604.08 L638.00,605.60 L638.33,606.73 L638.67,607.23 L639.00,606.85 L639.33,605.46 L639.67,608.60 L640.00,607.87 L640.34,605.64 L640.67,606.98 L641.01,606.40 L641.34,606.40 L641.68,607.51 L642.01,608.07 L642.35,606.65 L642.69,607.85 L643.02,607.48 L643.36,609.12 L643.69,606.41 L644.03,607.59 L644.36,606.95 L644.70,605.83 L645.05,608.34 L645.39,607.54 L645.74,607.45 L646.09,606.88 L646.44,606.85 L646.78,606.57 L647.13,605.50 L647.48,606.23 L647.82,608.05 L648.17,606.82 L648.52,605.49 L648.86,605.91 L649.21,605.91 L649.56,606.96 L649.91,606.99 L650.25,607.47 L650.60,608.88 L650.94,606.88 L651.28,608.01 L651.62,608.56 L651.96,610.08 L652.30,608.57 L652.64,608.61 L652.98,606.79 L653.32,607.76 L653.66,610.78 L654.00,608.67 L654.34,611.45 L654.68,611.12 L655.02,610.97 L655.36,610.88 L655.70,609.93 L656.04,611.28 L656.38,610.83 L656.71,611.33 L657.05,610.58 L657.39,611.52 L657.73,612.06 L658.06,612.19 L658.40,612.40 L658.74,614.27 L659.08,613.02 L659.41,612.27 L659.75,611.50 L660.09,609.98 L660.42,611.96 L660.76,609.91 L661.10,611.22 L661.44,611.95 L661.77,610.06 L662.11,612.36 L662.45,610.35 L662.79,612.13 L663.12,612.30 L663.46,611.50 L663.80,611.49 L664.15,612.53 L664.49,613.05 L664.84,611.08 L665.19,612.24 L665.54,610.91 L665.88,610.24 L666.23,612.94 L666.58,612.98 L666.92,613.25 L667.27,612.59 L667.62,614.66 L667.96,611.09 L668.31,612.68 L668.66,612.11 L669.01,612.54 L669.35,612.17 L669.70,612.58 L670.02,615.06 L670.34,613.39 L670.67,614.08 L670.99,614.53 L671.31,613.62 L671.63,615.56 L671.96,614.12 L672.28,616.02 L672.60,615.84 L672.94,615.79 L673.27,614.15 L673.61,614.21 L673.95,614.20 L674.28,615.97 L674.62,615.38 L674.95,613.75 L675.29,614.74 L675.63,613.86 L675.96,614.48 L676.30,615.03 L676.64,614.66 L676.97,616.16 L677.31,615.00 L677.65,615.55 L677.98,614.02 L678.32,613.86 L678.65,614.03 L678.99,614.50 L679.33,613.58 L679.66,615.64 L680.00,612.88 L680.35,614.70 L680.70,613.20 L681.04,613.42 L681.39,615.27 L681.74,614.39 L682.09,614.31 L682.43,615.12 L682.78,615.65 L683.13,615.20 L683.48,616.36 L683.82,615.68 L684.17,616.52 L684.52,616.30 L684.87,616.19 L685.21,615.80 L685.56,617.79 L685.91,616.12 L686.26,614.40 L686.60,615.93 L686.95,614.76 L687.30,614.99 L687.64,614.75 L687.98,616.33 L688.32,614.65 L688.65,614.19 L688.99,614.44 L689.33,613.90 L689.67,615.94 L690.01,614.99 L690.35,615.11 L690.68,613.37 L691.02,614.90 L691.36,614.72 L691.70,612.07 L692.04,612.71 L692.37,613.05 L692.71,613.91 L693.05,615.03 L693.38,613.78 L693.72,616.31 L694.05,614.29 L694.39,612.75 L694.73,615.12 L695.06,615.23 L695.40,614.39 L695.74,613.42 L696.07,614.80 L696.41,615.83 L696.75,613.03 L697.08,615.87 L697.42,614.00 L697.75,614.42 L698.09,613.92 L698.43,613.77 L698.76,616.37 L699.10,614.28 L699.45,615.78 L699.80,614.34 L700.14,615.98 L700.49,616.00 L700.84,613.62 L701.19,615.14 L701.53,615.74 L701.88,615.76 L702.23,616.90 L702.58,617.59 L702.92,617.78 L703.27,616.67 L703.62,618.08 L703.97,618.29 L704.31,617.37 L704.66,618.67 L705.01,619.34 L705.36,619.66 L705.70,617.66 L706.05,619.25 L706.40,619.49 L706.74,619.12 L707.08,617.65 L707.42,617.74 L707.75,617.59 L708.09,619.12 L708.43,617.92 L708.77,617.82 L709.11,617.85 L709.45,617.59 L709.78,617.33 L710.12,615.99 L710.46,617.03 L710.80,616.70 L711.10,617.02 L711.40,614.75 L711.70,615.53 L712.00,614.31 L712.30,612.09 L712.62,613.19 L712.94,613.72 L713.27,613.17 L713.59,615.12 L713.91,615.80 L714.23,614.64 L714.56,616.71 L714.88,617.34 L715.20,616.76 L715.54,616.80 L715.88,617.39 L716.22,615.07 L716.55,616.01 L716.89,616.96 L717.23,615.20 L717.57,614.24 L717.91,614.56 L718.25,614.58 L718.58,613.48 L718.92,614.43 L719.26,614.51 L719.60,611.92 L719.95,614.19 L720.29,613.52 L720.64,613.13 L720.99,614.81 L721.34,615.93 L721.68,614.98 L722.03,613.94 L722.38,615.24 L722.72,614.85 L723.07,616.07 L723.42,614.21 L723.76,615.25 L724.11,615.93 L724.46,615.27 L724.81,616.74 L725.15,616.67 L725.50,616.32 L725.84,614.86 L726.17,615.89 L726.51,615.58 L726.85,615.81 L727.18,614.48 L727.52,616.86 L727.85,614.89 L728.19,617.51 L728.53,615.98 L728.86,618.39 L729.20,617.10 L729.54,615.05 L729.87,615.26 L730.21,616.47 L730.55,616.66 L730.88,616.98 L731.22,618.72 L731.55,618.11 L731.89,616.79 L732.23,617.07 L732.56,617.43 L732.90,616.89 L733.25,617.40 L733.60,619.00 L733.94,618.57 L734.29,618.87 L734.64,617.25 L734.99,618.69 L735.33,617.57 L735.68,617.62 L736.03,616.49 L736.38,617.50 L736.72,617.05 L737.07,617.33 L737.42,617.18 L737.77,616.42 L738.11,617.65 L738.46,617.10 L738.81,617.64 L739.16,617.72 L739.50,618.10 L739.85,616.39 L740.20,617.67 L740.54,618.32 L740.88,617.51 L741.22,616.19 L741.55,617.52 L741.89,617.99 L742.23,616.87 L742.57,617.55 L742.91,618.07 L743.25,616.05 L743.58,616.21 L743.92,617.34 L744.26,617.97 L744.60,616.76 L744.94,618.18 L745.28,619.36 L745.62,617.76 L745.95,617.94 L746.29,617.69 L746.63,617.77 L746.97,617.45 L747.31,617.27 L747.65,615.93 L747.98,617.15 L748.32,618.32 L748.66,617.56 L749.00,616.53 L749.35,618.46 L749.69,615.62 L750.04,616.26 L750.39,618.31 L750.74,618.12 L751.08,617.49 L751.43,616.73 L751.78,616.15 L752.12,615.32 L752.47,616.29 L752.82,613.29 L753.16,615.75 L753.51,617.07 L753.86,615.72 L754.21,613.38 L754.55,616.45 L754.90,614.44 L755.24,614.29 L755.58,616.28 L755.92,616.31 L756.25,616.73 L756.59,616.22 L756.93,615.46 L757.27,615.05 L757.61,616.04 L757.95,615.89 L758.28,616.11 L758.62,616.63 L758.96,616.17 L759.30,617.62 L759.65,616.47 L759.99,616.64 L760.34,614.78 L760.69,615.07 L761.04,615.19 L761.38,615.17 L761.73,614.74 L762.08,614.18 L762.42,614.44 L762.77,615.03 L763.12,614.64 L763.46,613.56 L763.81,613.77 L764.16,614.43 L764.51,614.13 L764.85,612.90 L765.20,613.96 L765.55,614.23 L765.89,615.97 L766.24,614.88 L766.59,615.13 L766.94,614.59 L767.28,613.37 L767.63,614.83 L767.98,613.91 L768.32,612.34 L768.67,613.48 L769.02,613.13 L769.36,611.51 L769.71,612.07 L770.06,610.48 L770.41,612.11 L770.75,611.88 L771.10,611.60 L771.45,611.76 L771.79,611.53 L772.14,612.57 L772.49,612.03 L772.84,612.45 L773.18,611.69 L773.53,612.63 L773.88,611.23 L774.22,611.23 L774.57,612.58 L774.92,612.81 L775.26,613.65 L775.61,612.71 L775.96,613.63 L776.31,613.03 L776.65,613.02 L777.00,613.26 L777.34,614.11 L777.68,612.81 L778.02,612.42 L778.36,612.34 L778.71,610.82 L779.05,611.93 L779.39,610.30 L779.73,612.26 L780.07,609.73 L780.41,611.98 L780.75,610.31 L781.09,609.97 L781.44,610.13 L781.78,611.46 L782.12,609.71 L782.46,609.87 L782.80,609.33 L783.14,610.97 L783.48,607.84 L783.82,609.69 L784.15,610.08 L784.49,611.18 L784.83,609.39 L785.17,609.08 L785.51,608.77 L785.85,609.20 L786.18,610.43 L786.52,613.14 L786.86,611.82 L787.20,612.15 L787.54,611.35 L787.88,612.82 L788.22,611.58 L788.55,612.33 L788.89,610.12 L789.23,611.18 L789.57,612.64 L789.91,611.27 L790.25,610.04 L790.58,609.89 L790.92,610.49 L791.26,608.90 L791.60,609.84 L791.95,606.83 L792.29,608.51 L792.64,608.64 L792.99,610.25 L793.34,609.56 L793.68,610.00 L794.03,609.29 L794.38,609.72 L794.72,607.88 L795.07,607.95 L795.42,609.43 L795.76,607.45 L796.11,606.64 L796.46,608.54 L796.81,610.09 L797.15,608.43 L797.50,607.71 L797.84,609.15 L798.17,607.27 L798.51,608.54 L798.85,606.52 L799.18,605.26 L799.52,607.16 L799.85,605.23 L800.19,605.87 L800.53,606.33 L800.86,607.70 L801.20,606.41 L801.54,607.08 L801.87,605.25 L802.21,604.52 L802.55,603.51 L802.88,605.63 L803.22,605.82 L803.55,605.15 L803.89,605.15 L804.23,605.46 L804.56,604.50 L804.90,605.74 L805.24,604.64 L805.58,604.54 L805.92,604.08 L806.26,606.27 L806.61,602.65 L806.95,603.47 L807.29,602.09 L807.63,606.92 L807.97,606.20 L808.31,604.66 L808.65,604.86 L808.99,606.19 L809.34,607.28 L809.68,606.46 L810.02,607.49 L810.36,609.21 L810.70,608.22 L811.05,609.50 L811.39,607.77 L811.74,609.70 L812.09,607.95 L812.44,608.64 L812.78,608.16 L813.13,606.86 L813.48,606.88 L813.82,607.02 L814.17,604.98 L814.52,607.77 L814.86,604.85 L815.21,605.50 L815.56,605.20 L815.91,606.00 L816.25,604.55 L816.60,604.58 L816.95,603.44 L817.29,606.17 L817.64,606.83 L817.99,603.32 L818.34,605.27 L818.68,603.03 L819.03,604.64 L819.38,603.39 L819.72,602.59 L820.07,604.12 L820.42,601.78 L820.76,602.91 L821.11,603.29 L821.46,600.42 L821.81,599.34 L822.15,601.89 L822.50,599.88 L822.84,601.77 L823.18,599.30 L823.52,598.65 L823.85,600.87 L824.19,603.47 L824.53,603.06 L824.87,603.00 L825.21,602.72 L825.55,602.69 L825.88,603.68 L826.22,604.86 L826.56,603.60 L826.90,602.51 L827.24,603.28 L827.59,604.50 L827.93,603.75 L828.28,602.81 L828.62,604.42 L828.97,601.28 L829.31,603.72 L829.66,602.48 L830.00,603.02 L830.35,603.40 L830.70,603.37 L831.05,603.70 L831.40,605.29 L831.75,603.32 L832.10,605.46 L832.45,603.30 L832.80,605.49 L833.15,607.34 L833.50,606.03 L833.85,604.89 L834.20,605.78 L834.55,606.87 L834.90,604.92 L835.25,607.54 L835.60,605.76 L835.95,606.03 L836.30,605.40 L836.64,607.02 L836.97,603.64 L837.31,604.38 L837.65,602.67 L837.98,602.84 L838.32,601.56 L838.65,605.32 L838.99,604.11 L839.33,602.98 L839.66,603.28 L840.00,601.73 L840.35,600.58 L840.69,603.18 L841.04,601.27 L841.38,600.56 L841.73,597.96 L842.07,599.69 L842.42,596.41 L842.76,597.78 L843.11,596.02 L843.45,598.84 L843.80,597.60 L844.14,596.59 L844.49,599.01 L844.83,596.05 L845.18,593.65 L845.52,598.18 L845.87,590.94 L846.21,591.93 L846.56,593.06 L846.90,592.19 L847.24,592.77 L847.59,592.59 L847.93,591.81 L848.28,591.07 L848.62,592.98 L848.97,593.17 L849.31,591.56 L849.66,595.20 L850.00,593.17 L850.35,593.62 L850.70,586.68 L851.05,589.79 L851.40,587.43 L851.75,585.29 L852.10,584.13 L852.45,582.10 L852.80,580.93 L853.13,581.34 L853.46,585.52 L853.79,586.48 L854.11,584.95 L854.44,586.63 L854.77,592.20 L855.10,590.09 L855.41,587.87 L855.73,587.48 L856.04,588.00 L856.35,584.79 L856.66,586.28 L856.98,584.85 L857.29,588.55 L857.60,586.44 L857.93,586.67 L858.26,586.20 L858.59,585.01 L858.92,584.79 L859.25,589.83 L859.58,586.79 L859.92,586.27 L860.25,590.25 L860.58,586.24 L860.91,591.76 L861.24,592.85 L861.57,593.24 L861.90,591.24 L862.22,594.49 L862.54,591.37 L862.86,589.69 L863.18,589.33 L863.50,586.34 L863.82,590.88 L864.14,587.69 L864.46,585.42 L864.78,583.53 L865.10,583.75 L865.41,583.94 L865.73,581.94 L866.04,585.26 L866.35,586.23 L866.66,585.95 L866.98,585.61 L867.29,586.69 L867.60,584.35 L867.94,587.81 L868.29,585.54 L868.63,581.97 L868.98,586.17 L869.32,580.49 L869.67,579.95 L870.01,585.34 L870.36,581.43 L870.70,581.07 L871.04,582.21 L871.39,579.51 L871.73,583.85 L872.08,576.23 L872.42,583.03 L872.77,581.74 L873.11,582.47 L873.46,579.57 L873.80,581.89 L874.11,582.13 L874.42,583.53 L874.74,584.09 L875.05,582.93 L875.36,580.74 L875.67,580.93 L875.99,580.62 L876.30,582.55 L876.65,577.42 L876.99,582.63 L877.34,582.30 L877.68,580.07 L878.03,585.55 L878.37,582.72 L878.72,581.19 L879.06,585.04 L879.41,582.84 L879.75,583.91 L880.10,581.74 L880.41,577.45 L880.73,582.62 L881.04,578.53 L881.35,577.96 L881.66,581.39 L881.98,575.98 L882.29,576.73 L882.60,574.09 L882.91,576.01 L883.23,574.55 L883.54,575.63 L883.85,573.56 L884.16,570.88 L884.48,570.98 L884.79,571.10 L885.10,567.72 L885.44,570.38 L885.79,571.72 L886.13,568.55 L886.48,571.80 L886.82,572.31 L887.17,571.05 L887.51,573.41 L887.86,572.13 L888.20,573.07 L888.52,568.70 L888.83,568.61 L889.15,566.53 L889.47,569.30 L889.78,565.44 L890.10,559.71 L890.43,562.44 L890.76,559.44 L891.09,560.82 L891.41,558.52 L891.74,557.72 L892.07,557.83 L892.40,556.11 L892.74,558.83 L893.08,554.15 L893.41,562.57 L893.75,560.69 L894.09,563.00 L894.42,564.31 L894.76,565.89 L895.10,567.53 L895.41,565.29 L895.73,566.08 L896.04,565.21 L896.35,565.01 L896.66,561.73 L896.98,560.92 L897.29,563.02 L897.60,560.64 L897.91,560.71 L898.23,562.24 L898.54,561.85 L898.86,560.57 L899.17,561.14 L899.49,560.26 L899.80,559.44 L900.12,559.39 L900.44,559.91 L900.76,559.75 L901.08,560.45 L901.40,563.14 L901.70,564.70 L902.00,568.17 L902.30,574.17 L902.60,575.47 L902.92,573.38 L903.23,576.17 L903.55,570.65 L903.87,568.26 L904.18,568.03 L904.50,566.98 L904.82,567.71 L905.13,569.20 L905.45,571.06 L905.77,573.09 L906.08,577.19 L906.40,578.43 L906.71,577.69 L907.02,576.21 L907.34,576.90 L907.65,576.09 L907.96,575.15 L908.27,572.61 L908.59,573.50 L908.90,575.22 L909.25,570.12 L909.59,571.07 L909.94,569.99 L910.28,566.00 L910.63,563.51 L910.97,562.50 L911.32,562.16 L911.66,561.32 L912.01,559.64 L912.35,559.31 L912.70,556.73 L913.01,559.71 L913.33,560.01 L913.64,560.76 L913.95,558.56 L914.26,565.28 L914.58,564.22 L914.89,563.96 L915.20,565.18 L915.54,564.76 L915.87,564.54 L916.21,562.94 L916.55,563.01 L916.88,562.00 L917.22,562.71 L917.55,560.04 L917.89,559.46 L918.23,563.18 L918.56,557.53 L918.90,557.57 L919.22,559.34 L919.53,559.83 L919.85,564.26 L920.17,561.61 L920.48,564.06 L920.80,563.85 L921.14,564.42 L921.49,560.21 L921.83,559.85 L922.18,559.23 L922.52,560.05 L922.87,562.76 L923.21,560.30 L923.56,558.85 L923.90,559.10 L924.25,559.23 L924.59,555.07 L924.94,555.76 L925.28,557.99 L925.63,551.76 L925.97,551.18 L926.32,553.67 L926.66,555.01 L927.01,554.66 L927.35,549.38 L927.70,547.78 L928.02,546.28 L928.33,542.97 L928.65,539.38 L928.97,542.43 L929.28,540.70 L929.60,539.85 L929.90,541.51 L930.20,542.61 L930.50,544.75 L930.80,541.69 L931.10,545.54 L931.40,550.44 L931.71,550.78 L932.02,551.52 L932.34,547.01 L932.65,547.18 L932.96,546.62 L933.27,543.44 L933.59,550.03 L933.90,548.71 L934.25,548.52 L934.59,546.16 L934.94,547.72 L935.28,545.96 L935.63,543.79 L935.97,547.51 L936.32,545.04 L936.66,544.60 L937.01,540.74 L937.35,544.16 L937.70,540.33 L938.04,541.08 L938.39,539.44 L938.73,538.83 L939.08,536.18 L939.42,535.73 L939.77,537.71 L940.11,536.34 L940.46,535.23 L940.80,534.86 L941.11,534.05 L941.42,534.06 L941.74,536.78 L942.05,538.28 L942.36,540.36 L942.67,540.01 L942.99,538.50 L943.30,539.23 L943.63,538.12 L943.96,537.60 L944.29,538.43 L944.61,537.75 L944.94,535.08 L945.27,538.78 L945.60,537.18 L945.91,535.55 L946.23,530.61 L946.54,531.62 L946.85,528.46 L947.16,528.07 L947.48,527.45 L947.79,528.14 L948.10,525.92 L948.42,519.07 L948.73,524.30 L949.05,521.29 L949.37,522.75 L949.68,520.90 L950.00,521.63 L950.31,522.11 L950.62,524.30 L950.94,522.94 L951.25,520.96 L951.56,521.84 L951.88,523.11 L952.19,524.39 L952.50,524.24 L952.82,521.88 L953.13,521.40 L953.45,526.15 L953.77,525.32 L954.08,527.24 L954.40,525.21 L954.71,527.54 L955.02,526.06 L955.34,527.85 L955.65,522.39 L955.96,523.92 L956.27,520.17 L956.59,524.69 L956.90,519.78 L957.24,520.69 L957.59,518.06 L957.93,519.16 L958.28,515.81 L958.62,513.97 L958.97,513.22 L959.31,514.07 L959.66,513.19 L960.00,514.79 L960.32,512.44 L960.64,513.42 L960.96,511.15 L961.28,514.02 L961.60,511.65 L961.92,510.94 L962.24,511.70 L962.56,510.81 L962.88,511.74 L963.20,510.98 L963.50,510.49 L963.80,507.16 L964.10,503.83 L964.40,502.93 L964.73,501.42 L965.06,496.67 L965.39,493.47 L965.71,489.57 L966.04,487.55 L966.37,483.25 L966.70,479.33 L967.00,483.50 L967.30,488.25 L967.60,493.18 L967.90,495.42 L968.20,502.19 L968.51,500.67 L968.83,498.04 L969.14,497.36 L969.45,497.72 L969.76,490.12 L970.08,489.89 L970.39,490.87 L970.70,490.80 L971.04,491.28 L971.39,495.17 L971.73,494.24 L972.08,495.54 L972.42,500.88 L972.77,501.68 L973.11,504.25 L973.46,506.98 L973.80,508.76 L974.14,507.51 L974.49,505.26 L974.83,501.22 L975.18,502.30 L975.52,496.90 L975.87,496.85 L976.21,494.56 L976.56,494.20 L976.90,490.82 L977.22,491.89 L977.53,492.88 L977.85,495.12 L978.17,493.54 L978.48,497.55 L978.80,499.74 L979.15,501.10 L979.49,503.95 L979.84,504.90 L980.18,504.65 L980.53,503.38 L980.87,501.12 L981.22,507.91 L981.56,504.77 L981.91,506.27 L982.25,509.22 L982.60,504.58 L982.94,506.85 L983.27,506.72 L983.61,510.42 L983.95,507.90 L984.28,507.72 L984.62,506.91 L984.95,507.54 L985.29,508.13 L985.63,506.32 L985.96,504.31 L986.30,506.74 L986.65,504.39 L987.00,504.71 L987.35,504.49 L987.70,500.36 L988.05,495.54 L988.40,496.21 L988.75,494.01 L989.10,494.47 L989.45,491.40 L989.80,490.82 L990.14,490.18 L990.48,490.57 L990.82,491.09 L991.16,488.31 L991.50,491.11 L991.84,494.30 L992.18,491.61 L992.52,492.78 L992.86,492.09 L993.20,492.65 L993.52,492.49 L993.83,495.53 L994.15,499.34 L994.47,496.99 L994.78,498.66 L995.10,499.79 L995.42,499.52 L995.73,498.69 L996.05,498.14 L996.37,499.10 L996.68,495.35 L997.00,494.26 L997.30,497.26 L997.60,499.84 L997.90,498.59 L998.20,502.86 L998.50,503.85 L998.80,505.43 L999.12,505.61 L999.43,505.27 L999.75,505.38 L1000.07,505.72 L1000.38,507.71 L1000.70,507.57 L1001.03,511.24 L1001.35,511.59 L1001.67,516.83 L1002.00,521.04 L1002.31,522.96 L1002.62,523.32 L1002.94,522.36 L1003.25,524.67 L1003.56,527.29 L1003.88,522.57 L1004.19,525.15 L1004.50,524.07 L1004.80,528.28 L1005.10,532.17 L1005.40,535.99 L1005.70,539.30 L1006.03,536.64 L1006.35,532.89 L1006.67,530.19 L1007.00,533.14 L1007.31,530.51 L1007.62,525.62 L1007.94,526.49 L1008.25,525.24 L1008.56,524.28 L1008.88,522.31 L1009.19,522.47 L1009.50,523.19 L1009.80,523.72 L1010.10,527.39 L1010.40,525.74 L1010.70,529.32 L1011.02,529.40 L1011.34,529.50 L1011.66,532.99 L1011.98,532.59 L1012.30,531.60 L1012.62,529.20 L1012.94,532.19 L1013.26,532.99 L1013.58,532.57 L1013.90,536.05 L1014.21,532.09 L1014.52,532.96 L1014.84,533.21 L1015.15,533.89 L1015.46,533.71 L1015.77,537.78 L1016.09,537.92 L1016.40,538.88 L1016.74,537.96 L1017.08,534.95 L1017.42,536.24 L1017.75,536.84 L1018.09,535.60 L1018.43,531.46 L1018.77,529.61 L1019.11,530.39 L1019.45,529.26 L1019.78,525.37 L1020.12,526.19 L1020.46,525.82 L1020.80,524.43 L1021.10,522.90 L1021.40,526.20 L1021.70,527.72 L1022.00,526.73 L1022.30,527.02 L1022.60,531.99 L1022.95,529.50 L1023.29,530.42 L1023.64,530.19 L1023.98,528.88 L1024.33,530.29 L1024.67,529.84 L1025.02,526.64 L1025.36,527.65 L1025.71,527.94 L1026.05,523.89 L1026.40,527.07 L1026.74,528.96 L1027.08,529.44 L1027.42,528.17 L1027.75,530.66 L1028.09,528.16 L1028.43,528.81 L1028.77,526.57 L1029.11,530.47 L1029.45,528.40 L1029.78,527.40 L1030.12,529.38 L1030.46,531.42 L1030.80,529.09 L1031.11,532.36 L1031.42,530.72 L1031.74,529.35 L1032.05,530.81 L1032.36,534.78 L1032.67,531.56 L1032.99,537.83 L1033.30,533.63 L1033.62,537.86 L1033.93,540.50 L1034.25,540.19 L1034.57,539.11 L1034.88,540.84 L1035.20,541.38 L1035.50,540.73 L1035.80,541.16 L1036.10,542.46 L1036.40,541.41 L1036.70,540.25 L1037.00,538.18 L1037.31,536.09 L1037.62,535.60 L1037.94,535.12 L1038.25,533.89 L1038.56,529.91 L1038.88,532.04 L1039.19,530.61 L1039.50,530.20 L1039.82,531.83 L1040.14,532.21 L1040.46,533.75 L1040.78,533.19 L1041.10,534.41 L1041.42,539.25 L1041.74,538.22 L1042.06,539.29 L1042.38,541.23 L1042.70,539.91 L1043.04,539.85 L1043.37,542.25 L1043.71,540.03 L1044.05,541.27 L1044.38,539.77 L1044.72,539.89 L1045.05,539.58 L1045.39,537.98 L1045.73,536.19 L1046.06,538.60 L1046.40,536.41 L1046.75,537.01 L1047.09,538.69 L1047.44,537.26 L1047.78,540.86 L1048.13,539.05 L1048.47,540.82 L1048.82,542.94 L1049.16,544.16 L1049.51,543.60 L1049.85,547.93 L1050.20,549.11 L1050.54,546.66 L1050.88,548.11 L1051.22,545.28 L1051.55,545.88 L1051.89,543.74 L1052.23,544.97 L1052.57,545.91 L1052.91,548.59 L1053.25,543.59 L1053.58,544.49 L1053.92,541.97 L1054.26,545.99 L1054.60,544.88 L1054.94,543.25 L1055.29,544.52 L1055.63,546.91 L1055.98,547.96 L1056.32,544.81 L1056.67,548.49 L1057.01,549.11 L1057.36,550.60 L1057.70,547.65 L1058.04,548.28 L1058.39,547.96 L1058.73,546.81 L1059.08,549.48 L1059.42,550.04 L1059.77,549.17 L1060.11,547.63 L1060.46,549.08 L1060.80,548.63 L1061.12,544.07 L1061.45,543.66 L1061.77,535.57 L1062.10,536.92 L1062.44,535.96 L1062.78,535.03 L1063.12,534.76 L1063.45,536.01 L1063.79,537.91 L1064.13,536.76 L1064.47,534.75 L1064.81,533.40 L1065.15,533.29 L1065.48,533.96 L1065.82,533.49 L1066.16,533.33 L1066.50,533.79 L1066.80,536.45 L1067.10,533.85 L1067.40,537.07 L1067.70,536.60 L1068.00,538.52 L1068.30,538.62 L1068.62,539.10 L1068.94,536.43 L1069.26,534.30 L1069.58,536.03 L1069.90,534.44 L1070.22,534.12 L1070.54,527.84 L1070.86,525.66 L1071.18,525.54 L1071.50,524.61 L1071.83,525.16 L1072.16,527.36 L1072.49,522.19 L1072.82,523.68 L1073.15,525.67 L1073.48,526.99 L1073.82,525.01 L1074.15,528.88 L1074.48,526.33 L1074.81,523.77 L1075.14,528.23 L1075.47,527.26 L1075.80,527.35 L1076.12,530.21 L1076.44,529.19 L1076.76,531.25 L1077.08,533.94 L1077.40,534.91 L1077.72,536.71 L1078.04,536.37 L1078.36,533.71 L1078.68,538.77 L1079.00,538.01 L1079.32,537.03 L1079.63,541.73 L1079.95,541.17 L1080.27,542.16 L1080.58,543.40 L1080.90,542.82 L1081.24,539.46 L1081.59,539.27 L1081.93,539.77 L1082.27,539.20 L1082.61,536.43 L1082.96,534.63 L1083.30,533.39 L1083.62,535.69 L1083.95,531.76 L1084.27,535.92 L1084.59,531.38 L1084.92,534.09 L1085.24,532.95 L1085.56,537.89 L1085.88,530.74 L1086.21,535.84 L1086.53,533.70 L1086.85,529.88 L1087.18,533.47 L1087.50,530.86 L1087.82,531.68 L1088.15,533.27 L1088.47,533.48 L1088.79,528.57 L1089.12,531.79 L1089.44,531.67 L1089.76,529.44 L1090.08,534.82 L1090.41,534.95 L1090.73,535.53 L1091.05,533.35 L1091.38,538.26 L1091.70,539.98 L1092.02,535.36 L1092.35,536.92 L1092.67,534.32 L1092.99,534.44 L1093.32,533.29 L1093.64,534.78 L1093.96,533.85 L1094.28,527.26 L1094.61,531.18 L1094.93,529.07 L1095.25,531.71 L1095.58,528.88 L1095.90,526.80 L1096.23,528.29 L1096.57,529.30 L1096.90,526.16 L1097.23,531.74 L1097.57,529.52 L1097.90,527.44 L1098.23,535.06 L1098.57,530.24 L1098.90,532.84 L1099.23,532.35 L1099.57,530.29 L1099.90,530.29 L1100.23,533.42 L1100.57,531.03 L1100.90,536.75 L1101.23,529.84 L1101.56,531.19 L1101.89,533.23 L1102.22,533.65 L1102.55,529.66 L1102.88,526.86 L1103.21,531.35 L1103.54,526.87 L1103.87,528.68 L1104.20,525.05 L1104.53,526.13 L1104.87,528.45 L1105.20,526.88 L1105.53,529.66 L1105.87,530.28 L1106.20,529.64 L1106.53,525.08 L1106.87,528.56 L1107.20,528.34 L1107.53,531.13 L1107.87,524.77 L1108.20,526.40 L1108.53,528.73 L1108.87,528.84 L1109.20,526.33 L1109.52,529.14 L1109.85,527.05 L1110.17,529.08 L1110.49,528.62 L1110.82,530.99 L1111.14,530.03 L1111.46,532.33 L1111.78,530.98 L1112.11,533.53 L1112.43,533.05 L1112.75,535.10 L1113.08,532.76 L1113.40,536.66 L1113.73,531.42 L1114.06,534.46 L1114.39,535.79 L1114.72,536.70 L1115.05,535.87 L1115.38,538.17 L1115.71,539.69 L1116.04,539.92 L1116.37,540.65 L1116.70,542.46 L1117.02,539.86 L1117.35,543.53 L1117.67,543.80 L1117.99,540.27 L1118.32,542.87 L1118.64,538.70 L1118.96,539.29 L1119.28,539.91 L1119.61,535.52 L1119.93,536.94 L1120.25,537.91 L1120.58,538.50 L1120.90,535.73 L1121.23,536.52 L1121.57,537.22 L1121.90,539.47 L1122.23,533.36 L1122.57,534.21 L1122.90,534.73 L1123.23,532.53 L1123.57,529.83 L1123.90,530.69 L1124.23,531.98 L1124.57,528.63 L1124.90,527.33 L1125.23,527.59 L1125.57,528.12 L1125.90,524.78 L1126.24,529.29 L1126.58,525.94 L1126.92,529.28 L1127.26,527.40 L1127.61,529.93 L1127.95,531.09 L1128.29,529.21 L1128.63,530.40 L1128.97,531.34 L1129.31,528.97 L1129.65,529.19 L1129.99,529.00 L1130.34,529.59 L1130.68,530.46 L1131.02,531.54 L1131.36,530.79 L1131.70,531.39 L1132.01,533.96 L1132.33,529.86 L1132.64,526.52 L1132.95,525.56 L1133.26,528.22 L1133.58,526.30 L1133.89,523.91 L1134.20,517.69 L1134.52,518.95 L1134.85,518.50 L1135.17,517.64 L1135.49,516.21 L1135.82,514.62 L1136.14,518.73 L1136.46,513.25 L1136.78,513.48 L1137.11,511.72 L1137.43,512.35 L1137.75,514.29 L1138.08,508.65 L1138.40,510.65 L1138.73,509.00 L1139.07,509.37 L1139.40,509.35 L1139.73,512.44 L1140.07,512.92 L1140.40,510.13 L1140.73,515.89 L1141.07,516.46 L1141.40,515.61 L1141.73,517.40 L1142.07,519.08 L1142.40,515.70 L1142.73,513.83 L1143.07,515.95 L1143.40,516.80 L1143.71,517.55 L1144.03,517.01 L1144.34,515.23 L1144.65,514.14 L1144.96,512.67 L1145.28,510.76 L1145.59,511.29 L1145.90,509.71 L1146.21,509.30 L1146.53,505.51 L1146.84,506.34 L1147.15,505.93 L1147.46,504.48 L1147.78,503.08 L1148.09,500.44 L1148.40,502.90 L1148.74,502.45 L1149.08,505.36 L1149.42,510.39 L1149.76,512.24 L1150.10,515.74 L1150.42,511.52 L1150.74,506.36 L1151.06,504.50 L1151.38,501.26 L1151.70,495.55 L1152.04,495.73 L1152.38,494.96 L1152.72,495.29 L1153.06,491.51 L1153.40,495.13 L1153.74,492.31 L1154.08,494.30 L1154.42,491.86 L1154.76,490.40 L1155.10,492.68 L1155.41,487.86 L1155.72,488.57 L1156.04,480.23 L1156.35,479.12 L1156.66,476.67 L1156.97,475.02 L1157.29,471.07 L1157.60,466.40 L1157.91,468.81 L1158.22,469.88 L1158.54,469.29 L1158.85,471.46 L1159.16,472.64 L1159.47,476.30 L1159.79,473.90 L1160.10,477.45 L1160.43,478.27 L1160.76,475.61 L1161.09,478.24 L1161.42,478.32 L1161.75,476.67 L1162.08,479.20 L1162.41,478.84 L1162.74,480.28 L1163.07,481.09 L1163.40,482.32 L1163.74,482.28 L1164.08,485.05 L1164.42,484.67 L1164.76,488.59 L1165.10,491.09 L1165.44,493.28 L1165.78,485.74 L1166.12,486.70 L1166.46,482.39 L1166.80,480.85 L1167.14,481.72 L1167.48,483.67 L1167.83,484.90 L1168.17,485.05 L1168.51,483.52 L1168.85,485.93 L1169.19,488.14 L1169.53,490.29 L1169.88,491.36 L1170.22,493.20 L1170.56,494.95 L1170.90,496.57 L1171.25,494.20 L1171.60,492.49 L1171.95,491.51 L1172.30,489.44 L1172.65,490.73 L1173.00,485.49 L1173.35,486.97 L1173.70,486.42 L1174.05,485.64 L1174.40,483.30 L1174.75,479.83 L1175.10,479.82 L1175.42,480.95 L1175.75,480.08 L1176.07,481.29 L1176.39,482.66 L1176.72,483.46 L1177.04,484.92 L1177.36,485.27 L1177.68,486.06 L1178.01,488.74 L1178.33,490.31 L1178.65,489.01 L1178.98,491.53 L1179.30,491.63 L1179.64,494.64 L1179.98,492.66 L1180.32,490.35 L1180.66,493.17 L1181.01,487.90 L1181.35,490.09 L1181.69,492.51 L1182.03,486.97 L1182.37,491.10 L1182.71,489.48 L1183.05,488.88 L1183.39,489.81 L1183.74,490.20 L1184.08,485.90 L1184.42,485.25 L1184.76,486.17 L1185.10,484.40 L1185.42,489.57 L1185.75,484.77 L1186.07,487.53 L1186.39,485.01 L1186.72,486.23 L1187.04,488.40 L1187.36,489.26 L1187.68,486.03 L1188.01,486.12 L1188.33,485.59 L1188.65,485.79 L1188.98,487.20 L1189.30,487.19 L1189.61,483.54 L1189.92,481.98 L1190.24,483.19 L1190.55,481.38 L1190.86,477.40 L1191.17,473.62 L1191.49,471.32 L1191.80,469.26 L1192.13,470.51 L1192.46,471.88 L1192.79,471.58 L1193.12,475.09 L1193.45,474.68 L1193.78,479.02 L1194.11,474.26 L1194.44,476.70 L1194.77,480.66 L1195.10,480.70 L1195.43,479.67 L1195.77,481.58 L1196.10,483.60 L1196.43,482.51 L1196.77,481.81 L1197.10,485.81 L1197.43,489.79 L1197.77,486.73 L1198.10,489.81 L1198.43,490.96 L1198.77,487.72 L1199.10,487.95 L1199.43,491.65 L1199.77,494.09 L1200.10,496.97 L1200.42,493.66 L1200.75,496.51 L1201.07,497.16 L1201.39,498.34 L1201.72,498.66 L1202.04,498.71 L1202.36,498.22 L1202.68,499.50 L1203.01,501.91 L1203.33,497.60 L1203.65,499.95 L1203.98,501.61 L1204.30,502.75 L1204.63,503.18 L1204.96,502.69 L1205.29,500.67 L1205.62,498.86 L1205.95,494.09 L1206.28,494.34 L1206.61,492.85 L1206.94,493.62 L1207.27,490.42 L1207.60,487.67 L1207.94,486.59 L1208.29,488.30 L1208.63,486.53 L1208.97,486.31 L1209.31,484.11 L1209.66,483.57 L1210.00,480.36 L1210.30,477.76 L1210.60,482.14 L1210.90,481.27 L1211.20,484.85 L1211.50,485.59 L1211.80,484.91 L1212.13,483.40 L1212.45,481.94 L1212.78,478.10 L1213.11,476.68 L1213.44,475.99 L1213.76,474.50 L1214.09,476.33 L1214.42,476.73 L1214.75,473.58 L1215.07,470.72 L1215.40,470.44 L1215.73,471.70 L1216.05,470.62 L1216.38,468.07 L1216.71,472.21 L1217.04,475.06 L1217.36,472.71 L1217.69,473.71 L1218.02,472.01 L1218.35,472.42 L1218.67,472.45 L1219.00,473.27 L1219.33,474.78 L1219.66,479.17 L1219.99,474.65 L1220.31,477.33 L1220.64,477.06 L1220.97,475.68 L1221.30,476.52 L1221.63,478.17 L1221.96,480.55 L1222.29,479.48 L1222.61,476.50 L1222.94,476.75 L1223.27,479.43 L1223.60,480.37 L1223.90,480.42 L1224.20,480.98 L1224.50,482.13 L1224.80,484.12 L1225.10,484.98 L1225.40,483.98 L1225.70,482.98 L1226.00,480.34 L1226.30,478.98 L1226.60,478.62 L1226.90,471.86 L1227.20,469.46 L1227.54,468.05 L1227.88,469.96 L1228.21,467.12 L1228.55,467.95 L1228.89,470.06 L1229.23,465.84 L1229.56,467.44 L1229.90,467.28 L1230.23,469.02 L1230.55,469.21 L1230.88,468.24 L1231.21,467.39 L1231.54,468.11 L1231.86,471.03 L1232.19,472.18 L1232.52,469.11 L1232.85,469.61 L1233.17,469.96 L1233.50,470.50 L1233.84,469.55 L1234.17,467.16 L1234.51,464.37 L1234.85,462.43 L1235.19,458.41 L1235.53,453.74 L1235.86,451.98 L1236.20,445.00 L1236.52,444.04 L1236.83,445.24 L1237.15,444.72 L1237.47,442.39 L1237.78,444.27 L1238.10,443.05 L1238.44,439.68 L1238.77,443.30 L1239.11,440.82 L1239.45,442.67 L1239.79,445.88 L1240.12,448.60 L1240.46,449.77 L1240.80,441.88 L1241.14,438.49 L1241.47,437.92 L1241.81,441.74 L1242.15,428.51 L1242.49,436.63 L1242.83,442.29 L1243.16,427.04 L1243.50,429.16 L1243.84,427.24 L1244.17,424.65 L1244.51,418.33 L1244.85,421.36 L1245.19,429.50 L1245.53,422.90 L1245.86,420.79 L1246.20,422.82 L1246.51,423.53 L1246.83,414.04 L1247.14,414.59 L1247.46,414.03 L1247.77,411.32 L1248.09,411.06 L1248.40,407.83 L1248.73,412.63 L1249.06,412.73 L1249.39,409.55 L1249.71,407.32 L1250.04,412.81 L1250.37,414.51 L1250.70,415.15 L1251.04,419.92 L1251.38,418.29 L1251.71,418.10 L1252.05,416.61 L1252.39,415.35 L1252.73,416.34 L1253.06,414.08 L1253.40,410.10 L1253.70,406.53 L1254.00,409.45 L1254.30,400.41 L1254.60,402.51 L1254.90,398.86 L1255.20,385.76 L1255.51,391.92 L1255.83,387.32 L1256.14,392.13 L1256.46,387.65 L1256.77,383.36 L1257.09,382.99 L1257.40,381.16 L1257.60,376.23 L1257.80,378.41 L1258.08,368.05 L1258.35,364.90 L1258.62,358.06 L1258.90,353.80 L1259.21,355.79 L1259.53,353.57 L1259.84,355.42 L1260.16,358.82 L1260.47,353.35 L1260.79,359.54 L1261.10,359.79 L1261.40,355.48 L1261.70,362.73 L1262.00,356.52 L1262.30,354.47 L1262.60,346.34 L1262.90,353.30 L1263.20,353.64 L1263.50,359.39 L1263.80,351.86 L1264.10,359.53 L1264.40,363.27 L1264.72,361.97 L1265.04,361.36 L1265.36,357.80 L1265.68,355.68 L1266.00,355.91 L1266.33,347.26 L1266.65,339.21 L1266.97,338.32 L1267.30,338.58 L1267.62,320.48 L1267.94,312.48 L1268.26,300.28 L1268.58,291.26 L1268.90,277.61 L1269.18,283.55 L1269.45,293.40 L1269.72,291.91 L1270.00,304.73 L1270.28,298.22 L1270.55,294.03 L1270.82,285.12 L1271.10,285.08 L1271.38,279.57 L1271.65,278.71 L1271.92,275.53 L1272.20,277.12 L1272.47,280.20 L1272.75,270.76 L1273.03,271.15 L1273.30,270.38 L1273.58,257.80 L1273.85,254.70 L1274.12,246.12 L1274.40,240.03 L1274.75,234.37 L1275.10,223.90" fill="none" stroke="#f5bc45" stroke-width="2.3" stroke-linejoin="round" stroke-linecap="round"/>
<g font-weight="bold" font-size="13.5" fill="#000">
<path d="M398,699 L414,699" stroke="#e8563b" stroke-width="2"/>
<text x="418.6" y="703" textLength="288" lengthAdjust="spacingAndGlyphs">Average purchasing power of the US dollar</text>
<path d="M743,699 L759,699" stroke="#f5bc45" stroke-width="2"/>
<text x="764.5" y="703" font-size="15" textLength="41" lengthAdjust="spacingAndGlyphs">LBMA</text>
<text x="815" y="703" textLength="215" lengthAdjust="spacingAndGlyphs">Gold spot afternoon fixing price</text>
</g>
</svg>
</body></html>
